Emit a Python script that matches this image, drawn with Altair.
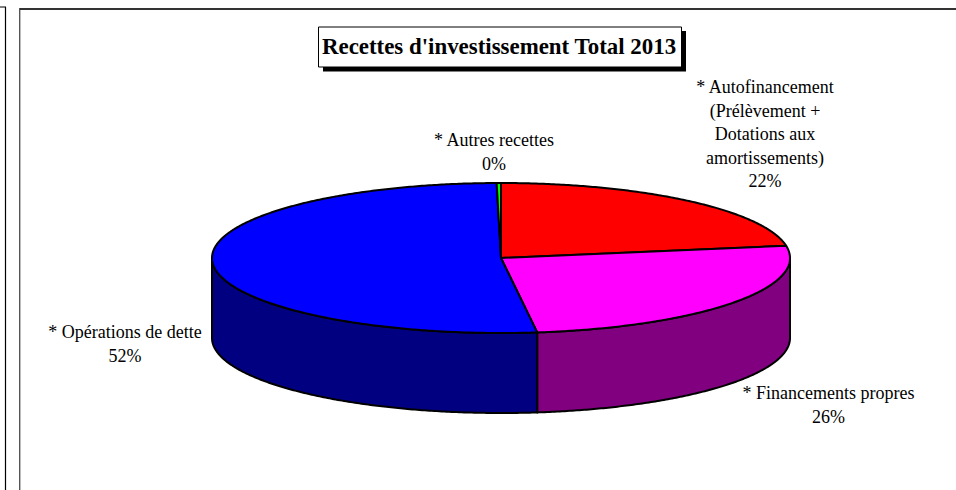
import math

import altair as alt
import pandas as pd

# Receipts by category, in percent of the 2013 total
categories = ["* Autofinancement\n(Prélèvement +\nDotations aux\namortissements)",
              "* Financements propres",
              "* Opérations de dette",
              "* Autres recettes"]
shares = [22.4, 25.6, 51.76, 0.24]
top_colors = ["#ff0000", "#ff00ff", "#0000ff", "#00ff00"]
wall_colors = ["#800000", "#800080", "#000080", "#008000"]

# Pie geometry in canvas units
CX, CY = 501, 258
RX, RY = 289, 75
DEPTH = 80
W, H = 956, 490
EDGE = 2

# Label anchors (first text line), same order as the categories
label_x = [765, 828.5, 125, 494]
label_y = [88, 394, 333, 141]

x_scale = alt.Scale(domain=[0, W], range=[0, W])
y_scale = alt.Scale(domain=[0, H], range=[0, H])


def rim(t, drop=0):
    a = math.radians(t)
    return CX + RX * math.sin(a), CY - RY * math.cos(a) + drop


def outline(points):
    frame = pd.DataFrame(points, columns=["x", "y"])
    frame["seq"] = range(len(frame))
    return frame


def polygon(points, color):
    return alt.Chart(outline(points)).mark_line(
        fill=color, stroke="black", strokeWidth=EDGE, strokeJoin="round"
    ).encode(
        x=alt.X("x:Q", scale=x_scale, axis=None),
        y=alt.Y("y:Q", scale=y_scale, axis=None),
        order=alt.Order("seq:Q"),
    )


def arc_points(start, end, drop=0):
    steps = max(2, int(abs(end - start) * 2))
    return [rim(start + (end - start) * i / steps, drop) for i in range(steps + 1)]


layers = []

# Walls of the cylinder, only the front half of the rim is visible
start = 0.0
for share, wall in zip(shares, wall_colors):
    end = start + share * 3.6
    lo, hi = max(start, 90), min(end, 270)
    if lo < hi:
        pts = arc_points(lo, hi) + arc_points(hi, lo, DEPTH)
        layers.append(polygon(pts + pts[:1], wall))
    start = end

# Top face of the pie
start = 0.0
for share, top in zip(shares, top_colors):
    end = start + share * 3.6
    pts = [(CX, CY)] + arc_points(start, end) + [(CX, CY)]
    layers.append(polygon(pts, top))
    start = end

# Slice labels: name and rounded percentage
labels = pd.DataFrame({
    "text": [f"{c}\n{round(s)}%" for c, s in zip(categories, shares)],
    "x": label_x,
    "y": label_y,
})
layers.append(alt.Chart(labels).mark_text(
    font="Liberation Serif", fontSize=18, lineBreak="\n", lineHeight=23.6,
    align="center", baseline="middle", color="black",
).encode(
    x=alt.X("x:Q", scale=x_scale, axis=None),
    y=alt.Y("y:Q", scale=y_scale, axis=None),
    text="text:N",
))

# Title box with its drop shadow
title_text = ["Recettes d'investissement Total 2013"]
anchor = pd.DataFrame({"t": title_text})
layers.append(alt.Chart(anchor).mark_rect(color="black").encode(
    x=alt.value(323), x2=alt.value(686), y=alt.value(31), y2=alt.value(71.5)))
layers.append(alt.Chart(anchor).mark_rect(fill="white", stroke="black", strokeWidth=1).encode(
    x=alt.value(318.5), x2=alt.value(681.5), y=alt.value(27), y2=alt.value(67)))
layers.append(alt.Chart(anchor).mark_text(
    font="Liberation Serif", fontSize=22.9, fontWeight="bold", color="black",
    align="center", baseline="middle",
).encode(x=alt.value(499), y=alt.value(47), text="t:N"))


# Frame lines around the chart panels
def hline(x1, x2, y, color, width):
    return alt.Chart(anchor).mark_rule(color=color, strokeWidth=width).encode(
        x=alt.value(x1), x2=alt.value(x2), y=alt.value(y))


def vline(x, y1, y2, color, width):
    return alt.Chart(anchor).mark_rule(color=color, strokeWidth=width).encode(
        x=alt.value(x), y=alt.value(y1), y2=alt.value(y2))


layers += [
    hline(0, 6, 7, "black", 1),
    vline(5.5, 7, 490, "black", 1.2),
    hline(19, 956, 9, "#333333", 2),
    vline(19.5, 8, 490, "#555555", 1),
    vline(20.5, 10, 490, "#bbbbbb", 1),
]

chart = alt.layer(*layers).properties(
    width=W, height=H, padding=0, autosize=alt.AutoSizeParams(type="none"),
    background="white",
).configure_view(stroke=None)

chart.save("out.html", embed_options={"renderer": "svg", "actions": False})
